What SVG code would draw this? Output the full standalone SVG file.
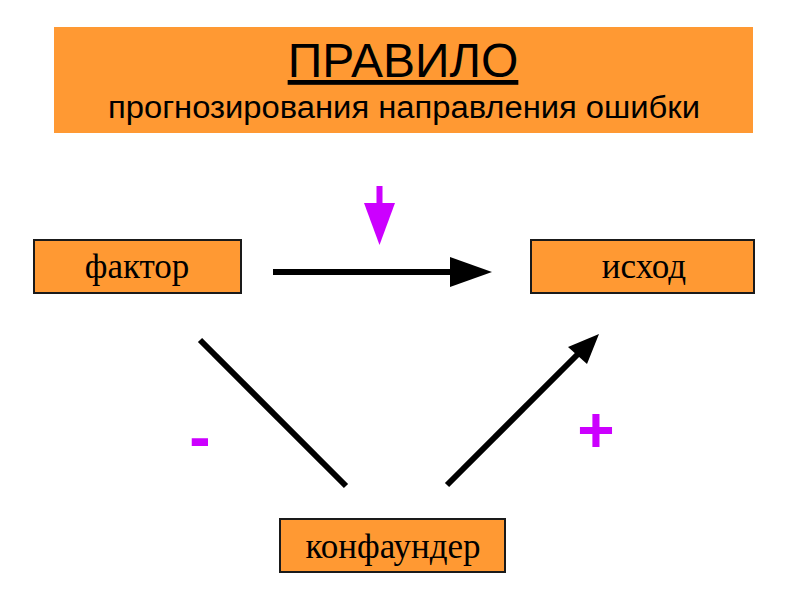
<svg xmlns="http://www.w3.org/2000/svg" width="800" height="600" viewBox="0 0 800 600">
<style>
.box{fill:#FF9933;stroke:#1a1a1a;stroke-width:2}
.lbl{font-family:"Liberation Serif",serif;font-size:35px;fill:#000;text-anchor:middle}
.conn{stroke:#000;stroke-width:6;fill:none}
.sign{font-family:"Liberation Sans",Arial,sans-serif;font-weight:bold;fill:#CC00FF;text-anchor:middle}
</style>
<rect width="800" height="600" fill="#fff"/>
<g id="title">
<rect x="54" y="27" width="699" height="106" fill="#FF9933"/>
<text x="403" y="77" font-family="Liberation Sans,Arial,sans-serif" font-size="48" text-anchor="middle" text-decoration="underline">ПРАВИЛО</text>
<text x="404" y="118" font-family="Liberation Sans,Arial,sans-serif" font-size="31" text-anchor="middle" textLength="592" lengthAdjust="spacingAndGlyphs">прогнозирования направления ошибки</text>
</g>
<g id="factor">
<rect class="box" x="34" y="240" width="207" height="53"/>
<text class="lbl" x="137" y="278">фактор</text>
</g>
<g id="outcome">
<rect class="box" x="531" y="240" width="223" height="53"/>
<text class="lbl" x="644" y="278">исход</text>
</g>
<g id="confounder">
<rect class="box" x="280" y="519" width="225" height="53"/>
<text class="lbl" x="393" y="558">конфаундер</text>
</g>
<g id="connectors">
<line class="conn" x1="273" y1="272" x2="452" y2="272"/>
<polygon points="450,257 492,272 450,287" fill="#000"/>
<line class="conn" x1="200" y1="340" x2="346" y2="486"/>
<line class="conn" x1="447" y1="485" x2="580" y2="352"/>
<polygon points="599,334 568,347 587,364" fill="#000"/>
</g>
<g id="bias-arrow">
<rect x="376.5" y="186" width="6" height="19" fill="#CC00FF"/>
<polygon points="364,203 395,203 379.5,245" fill="#CC00FF"/>
</g>
<g id="signs">
<text class="sign" x="200" y="459" font-size="64">-</text>
<text class="sign" x="596" y="452" font-size="64">+</text>
</g>
</svg>
